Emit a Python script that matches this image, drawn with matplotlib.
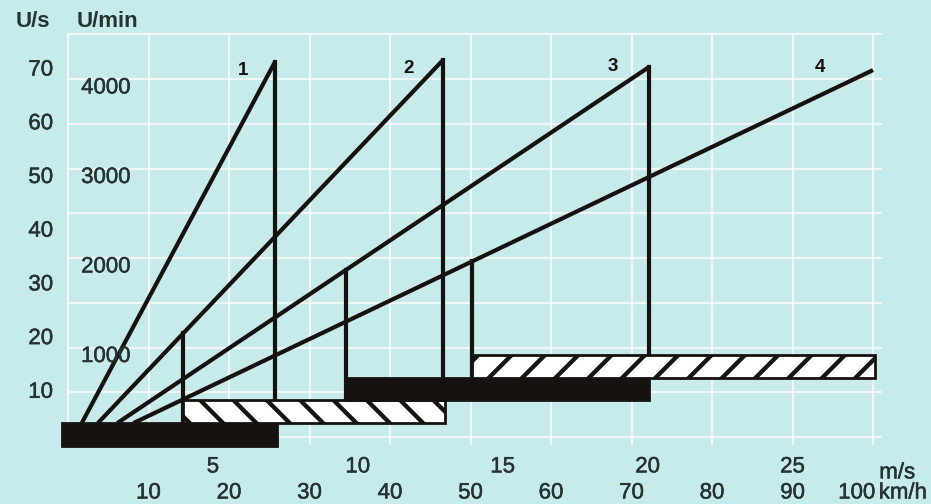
import numpy as np
import matplotlib.pyplot as plt
import matplotlib.patheffects as pe

# ========== DATA ==========
gears = ["1", "2", "3", "4"]
# each gear line: starts on top of the lowest bar, ends at its shift point
line_start_kmh = [1.7, 3.7, 6.1, 8.1]
peak_kmh = [25.7, 46.6, 72.2, 100.0]
peak_ups = [71.5, 71.9, 70.6, 70.0]
# speed range of each gear (the bars), km/h
bar_from_kmh = [-0.8, 14.3, 34.5, 50.2]
bar_to_kmh = [26.0, 46.8, 72.2, 100.2]

ups_ticks = [10, 20, 30, 40, 50, 60, 70]
rpm_ticks = [1000, 2000, 3000, 4000]
ms_ticks = [5, 10, 15, 20, 25]
kmh_ticks = [10, 20, 30, 40, 50, 60, 70, 80, 90, 100]

# ========== STYLE ==========
BG = '#c7eaea'
INK = '#151210'
TXT = '#263333'
BAND = 4.25          # bar thickness in U/s
plt.rcParams['font.family'] = ['Liberation Sans', 'DejaVu Sans']
plt.rcParams['hatch.linewidth'] = 3.1
plt.rcParams['hatch.color'] = INK
thick = [pe.withStroke(linewidth=0.35, foreground=TXT)]

fig = plt.figure(figsize=(9.31, 5.04), dpi=100, facecolor=BG)
ax = fig.add_axes([0, 0, 1, 1])
ax.set_facecolor(BG)
ax.set_xlim(-8.45, 107.2)
ax.set_ylim(-10.8, 83.05)
ax.axis('off')

# grid
for k in range(0, 101, 10):
    ax.plot([k, k], [0.4, 76.6], color='white', lw=1.6, alpha=0.7, zorder=1)
for g in np.arange(100, 4700, 500) / 60:
    ax.plot([0, 101], [g, g], color='white', lw=1.6, alpha=0.7, zorder=1)

# gear lines
top0 = BAND
for i in range(4):
    ax.plot([line_start_kmh[i], peak_kmh[i]], [top0, peak_ups[i]],
            color=INK, lw=3, solid_capstyle='butt', zorder=3)

def line_at(i, x):
    return np.interp(x, [line_start_kmh[i], peak_kmh[i]], [top0, peak_ups[i]])

# shift-up verticals (peak down to the next bar)
for i in range(3):
    ax.plot([peak_kmh[i], peak_kmh[i]], [peak_ups[i], (i + 2) * BAND],
            color=INK, lw=3, zorder=3)
# lower limit verticals (left edge of bar up to the gear line)
for i in range(1, 4):
    x = bar_from_kmh[i]
    ax.plot([x, x], [line_at(i, x), i * BAND], color=INK, lw=3, zorder=3)

# speed range bars
hatches = [None, '\\', None, '/']
for i in range(4):
    filled = hatches[i] is None
    ax.barh(i * BAND, bar_to_kmh[i] - bar_from_kmh[i], height=BAND,
            left=bar_from_kmh[i], align='edge',
            color=INK if filled else 'white', hatch=hatches[i],
            edgecolor=INK, linewidth=2, zorder=4)

# gear numbers
offs = [(-23, -6), (-25, -6), (-26, 0), (-38, 2)]
for i, g in enumerate(gears):
    ax.annotate(g, (peak_kmh[i], peak_ups[i]), xytext=offs[i],
                textcoords='offset points', ha='center', va='center',
                fontsize=13.5, fontweight='bold', color=INK)

# left scales
ax.text(-4.35, 79.0, 'U/s', ha='center', va='center', fontsize=16,
        fontweight='bold', color=TXT)
ax.text(4.9, 79.0, 'U/min', ha='center', va='center', fontsize=16,
        fontweight='bold', color=TXT)
for v in ups_ticks:
    ax.text(-1.85, v, str(v), ha='right', va='center', fontsize=16,
            color=TXT, path_effects=thick)
for r in rpm_ticks:
    ax.text(4.7, r / 60, str(r), ha='center', va='center', fontsize=16,
            color=TXT, path_effects=thick)

# bottom scales
for v in ms_ticks:
    ax.text(v * 3.6, -3.9, str(v), ha='center', va='center', fontsize=16,
            color=TXT, path_effects=thick)
for v in kmh_ticks:
    ha = 'right' if v == kmh_ticks[-1] else 'center'
    ax.text(v + (0.3 if ha == 'right' else 0), -8.75, str(v), ha=ha,
            va='center', fontsize=16, color=TXT, path_effects=thick)
ax.text(103.0, -5.0, 'm/s', ha='center', va='center', fontsize=16,
        color=TXT, path_effects=thick)
ax.text(103.7, -8.75, 'km/h', ha='center', va='center', fontsize=16,
        color=TXT, path_effects=thick)

fig.savefig('out.png', dpi=100, facecolor=BG)
